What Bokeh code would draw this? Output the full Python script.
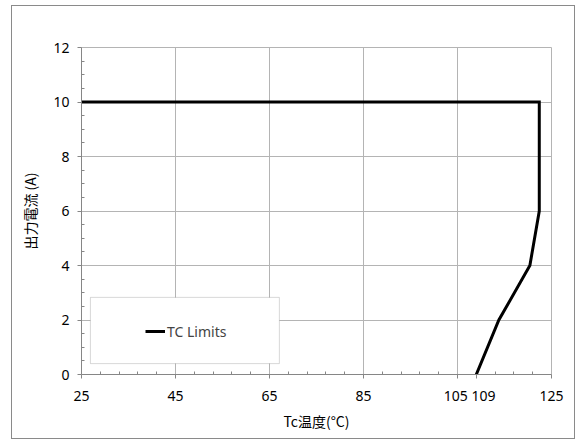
from bokeh.plotting import figure
from bokeh.models import FixedTicker, Range1d, Legend, LegendItem, BoxAnnotation
from bokeh.embed import file_html
from bokeh.resources import INLINE

# Data
tc_temp = [25, 122.4, 122.4, 120.4, 113.8, 109]
out_current = [10, 10, 6, 4, 2, 0]

x_ticks = [25, 45, 65, 85, 105, 109, 125]
x_grid_ticks = [25, 45, 65, 85, 105, 125]
x_minor = [29, 33, 37, 41, 49, 53, 57, 61, 69, 73, 77, 81, 89, 93, 97, 101, 113, 117, 121]
y_ticks = [0, 2, 4, 6, 8, 10, 12]
y_minor = [0.5, 1, 1.5, 2.5, 3, 3.5, 4.5, 5, 5.5, 6.5, 7, 7.5, 8.5, 9, 9.5, 10.5, 11, 11.5]

series_label = "TC Limits"
x_label = "Tc温度(°C)"
y_label = "出力電流 (A)"

AXIS = "#868686"
GRID = "#b4b4b4"
FONT = "Noto Sans CJK JP"
TFONT = "Noto Sans"
NB = "\u00a0"

p = figure(frame_width=470, frame_height=327,
           min_border_left=69, min_border_right=23, min_border_top=41, min_border_bottom=64,
           x_range=Range1d(25, 125), y_range=Range1d(0, 12),
           output_backend="svg", toolbar_location=None)
p.styles = {"border": "1px solid #8a8a8a", "margin-left": "11px", "margin-top": "5px"}
p.outline_line_color = GRID

r = p.line(tc_temp, out_current, line_color="black", line_width=3, line_join="miter")

p.xaxis.ticker = FixedTicker(ticks=x_ticks, minor_ticks=x_minor)
p.yaxis.ticker = FixedTicker(ticks=y_ticks, minor_ticks=y_minor)
p.xgrid.ticker = FixedTicker(ticks=x_grid_ticks)
p.ygrid.ticker = FixedTicker(ticks=y_ticks)
p.grid.grid_line_color = GRID
p.grid.grid_line_width = 1

for ax in (p.xaxis, p.yaxis):
    ax.axis_line_color = AXIS
    ax.major_tick_line_color = AXIS
    ax.minor_tick_line_color = AXIS
    ax.major_tick_out = 4
    ax.major_tick_in = 0
    ax.minor_tick_out = 0
    ax.minor_tick_in = 3
    ax.major_label_text_font = TFONT
    ax.major_label_text_font_size = "14px"
    ax.major_label_text_color = "#000000"
    ax.axis_label_text_font = FONT
    ax.axis_label_text_font_size = "14px"
    ax.axis_label_text_font_style = "normal"
    ax.axis_label_text_color = "#000000"

p.xaxis.major_label_overrides = {105: "105" + NB, 109: NB * 4 + "109"}
p.xaxis.axis_label = x_label
p.yaxis.axis_label = y_label
p.xaxis.major_label_standoff = 7
p.yaxis.major_label_standoff = 8
p.xaxis.axis_label_standoff = 3
p.yaxis.axis_label_standoff = 10

box = BoxAnnotation(left=26.9, right=67.1, bottom=0.4, top=2.83,
                    fill_color="white", fill_alpha=1.0,
                    line_color="#7f7f7f", line_width=1)
p.add_layout(box)

legend = Legend(items=[LegendItem(label=series_label, renderers=[r])],
                location=(64, 33), padding=0, margin=0, spacing=0,
                glyph_width=20, glyph_height=20, label_height=20, label_standoff=2,
                background_fill_alpha=0, border_line_alpha=0,
                label_text_font=TFONT, label_text_font_size="14px")
p.add_layout(legend)

open("out.html", "w").write(file_html(p, INLINE))
